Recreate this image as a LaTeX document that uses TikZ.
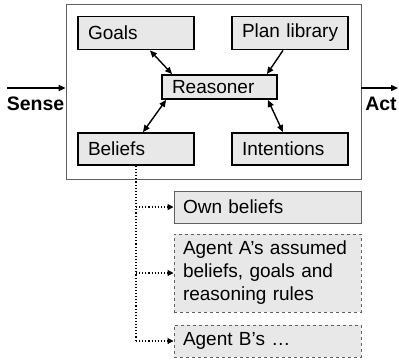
\documentclass[tikz,border=0pt]{standalone}
\usepackage{fontspec}
\setmainfont{Liberation Sans}
\usetikzlibrary{arrows.meta}
\definecolor{boxfill}{HTML}{E8E8E8}
\definecolor{boxline}{HTML}{606060}
\tikzset{
  module/.style={draw=black, line width=1.8pt, fill=boxfill, minimum width=116pt,
    minimum height=33pt, inner xsep=0pt, text width=116pt, align=left,
    execute at begin node={\hspace*{10pt}},
    font=\fontsize{19}{23}\selectfont},
  store/.style={draw=boxline, line width=1pt, fill=boxfill, minimum width=187pt,
    inner xsep=9pt, inner ysep=4pt, text width=169pt, align=left,
    font=\fontsize{19}{23}\selectfont},
  guess/.style={store, dashed},
  link/.style={line width=1.4pt, -{Triangle[length=7pt,width=6pt]}},
  bilink/.style={line width=1.4pt, {Triangle[length=7pt,width=6pt]}-{Triangle[length=7pt,width=6pt]}},
  feed/.style={line width=1.1pt, dotted, -{Triangle[length=6pt,width=6pt]}},
  io/.style={font=\fontsize{19.5}{23}\selectfont\bfseries}
}
\begin{document}
\begin{tikzpicture}[x=1pt, y=-1pt]
\useasboundingbox (0,0) rectangle (399,360);

% agent frame
\node[draw=boxline, line width=0.8pt, minimum width=295pt, minimum height=175pt] (agent) at (213.5,91.5) {};

% modules
\node[module] (goals) at (136,33) {Goals};
\node[module] (plans) at (290,33) {Plan library};
\node[module, minimum width=115pt, minimum height=24pt, text width=115pt] (reasoner) at (219.5,87) {Reasoner};
\node[module, minimum height=32pt] (beliefs) at (136,149) {Beliefs};
\node[module, minimum height=32pt] (intentions) at (290,149) {Intentions};

% links to the reasoner
\draw[bilink] ([xshift=14pt]goals.south) -- ([xshift=11pt]reasoner.north west);
\draw[link] ([xshift=-7pt]plans.south) -- ([xshift=-11pt]reasoner.north east);
\draw[bilink] ([xshift=5pt]reasoner.south west) -- ([xshift=7pt]beliefs.north);
\draw[bilink] ([xshift=-10pt]reasoner.south east) -- ([xshift=-7pt]intentions.north);

% sense and act
\coordinate (sensein) at (7,88);
\coordinate (actout) at (398,88);
\draw[link] (sensein) -- (sensein -| agent.west);
\draw[link] (actout -| agent.east) -- (actout);
\node[io] (sense) at (35.5,103.5) {Sense};
\node[io] (act) at (381,103.5) {Act};

% belief stores
\node[store, minimum height=32pt] (own) at (267.5,207) {Own beliefs};
\node[guess, minimum height=78pt] (agenta) at (267.5,273) {Agent A’s assumed\\beliefs, goals and\\reasoning rules};
\node[guess, minimum height=32pt] (agentb) at (267.5,341) {Agent B’s \dots};

% dotted feeds
\coordinate (split) at (136,341);
\draw[line width=1.1pt, dotted] (beliefs.south) -- (split);
\draw[feed] (beliefs.south |- own.west) -- (own.west);
\draw[feed] (beliefs.south |- agenta.west) -- (agenta.west);
\draw[feed] (split) -- (agentb.west);
\end{tikzpicture}
\end{document}
